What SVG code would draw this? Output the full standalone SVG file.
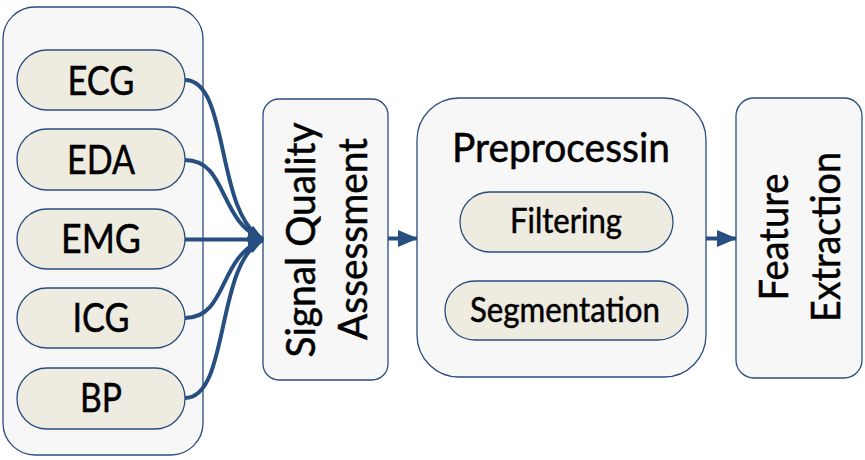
<svg xmlns="http://www.w3.org/2000/svg" width="865" height="460" viewBox="0 0 865 460">
<defs>
<style>
.box{fill:#f7f7f7;stroke:#2b4d7e;stroke-width:1.3}
.pill{fill:#eeebe1;stroke:#2b4d7e;stroke-width:1.3}
.t{font-family:Lato,"Open Sans",sans-serif;font-size:41px;fill:#000;text-anchor:middle;stroke:#000;stroke-width:0.5}
.s{font-size:34px}
.c{fill:none;stroke:#264e80;stroke-width:4}
</style>
<marker id="ah" markerWidth="16" markerHeight="15" refX="15" refY="7.5" orient="auto" markerUnits="userSpaceOnUse" viewBox="0 0 16 15">
<path d="M0,0 L16,7.5 L0,15 Z" fill="#264e80"/>
</marker>
<marker id="ah2" markerWidth="20" markerHeight="17" refX="19" refY="8.5" orient="auto" markerUnits="userSpaceOnUse" viewBox="0 0 20 17">
<path d="M0,0 L20,8.5 L0,17 Z" fill="#264e80"/>
</marker>
</defs>
<g id="signals">
<rect class="box" x="3" y="7" width="200" height="448" rx="32"/>
</g>
<g id="ecg"><rect class="pill" x="17" y="50" width="168" height="60" rx="30"/><text class="t" x="101" y="95" textLength="67" lengthAdjust="spacingAndGlyphs">ECG</text></g>
<g id="eda"><rect class="pill" x="17" y="129" width="168" height="61" rx="30"/><text class="t" x="101" y="174" textLength="68" lengthAdjust="spacingAndGlyphs">EDA</text></g>
<g id="emg"><rect class="pill" x="17" y="209" width="168" height="60" rx="30"/><text class="t" x="101" y="253" textLength="80" lengthAdjust="spacingAndGlyphs">EMG</text></g>
<g id="icg"><rect class="pill" x="17" y="288" width="168" height="60" rx="30"/><text class="t" x="101" y="332" textLength="57" lengthAdjust="spacingAndGlyphs">ICG</text></g>
<g id="bp"><rect class="pill" x="17" y="368" width="168" height="61" rx="30"/><text class="t" x="101" y="412" textLength="42" lengthAdjust="spacingAndGlyphs">BP</text></g>
<g id="sqa">
<rect class="box" x="263" y="99" width="125" height="281" rx="16"/>
<text class="t" transform="translate(315,240) rotate(-90)" textLength="235" lengthAdjust="spacingAndGlyphs">Signal Quality</text>
<text class="t" transform="translate(367,239) rotate(-90)" textLength="202" lengthAdjust="spacingAndGlyphs">Assessment</text>
</g>
<g id="preprocessing">
<rect class="box" x="417" y="98" width="289" height="279" rx="42"/>
<text class="t" x="561" y="162" textLength="218" lengthAdjust="spacingAndGlyphs">Preprocessin</text>
</g>
<g id="filtering"><rect class="pill" x="460" y="192" width="213" height="60" rx="30"/><text class="t s" x="566" y="233" textLength="112" lengthAdjust="spacingAndGlyphs">Filtering</text></g>
<g id="segmentation"><rect class="pill" x="445" y="281" width="243" height="59" rx="30"/><text class="t s" x="565" y="322" textLength="190" lengthAdjust="spacingAndGlyphs">Segmentation</text></g>
<g id="feature">
<rect class="box" x="736" y="98" width="126" height="280" rx="18"/>
<text class="t" transform="translate(788,237) rotate(-90)" textLength="127" lengthAdjust="spacingAndGlyphs">Feature</text>
<text class="t" transform="translate(840,237) rotate(-90)" textLength="170" lengthAdjust="spacingAndGlyphs">Extraction</text>
</g>
<g id="connectors">
<path class="c" d="M185,80 C230,80 215,215 263,239" marker-end="url(#ah)"/>
<path class="c" d="M185,160 C228,160 218,222 263,239" marker-end="url(#ah)"/>
<path class="c" d="M185,239.5 L263,239.5" marker-end="url(#ah)"/>
<path class="c" d="M185,318 C228,318 218,256 263,240" marker-end="url(#ah)"/>
<path class="c" d="M185,398 C230,398 215,262 263,240" marker-end="url(#ah)"/>
<path class="c" d="M388,238.5 L417,238.5" marker-end="url(#ah2)"/>
<path class="c" d="M706,238.5 L736,238.5" marker-end="url(#ah2)"/>
</g>
</svg>
